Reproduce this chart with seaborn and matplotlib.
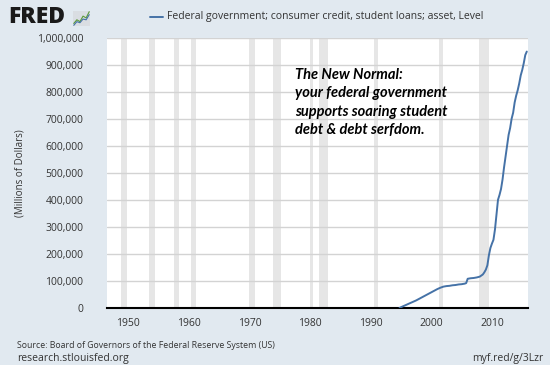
import matplotlib
matplotlib.use("Agg")
import matplotlib.pyplot as plt
import matplotlib.ticker as mticker
import seaborn as sns
import pandas as pd

# quarterly values (millions of dollars)
dates = [1994.75, 1995.0, 1995.5, 1996.0, 1996.5, 1997.0, 1997.5, 1998.0, 1998.5,
         1999.0, 1999.5, 2000.0, 2000.5, 2001.0, 2001.5, 2002.0, 2002.5, 2003.0,
         2003.5, 2004.0, 2004.5, 2005.0, 2005.5, 2005.75, 2006.0, 2006.5, 2007.0,
         2007.5, 2008.0, 2008.5, 2008.75, 2009.0, 2009.25, 2009.5, 2009.75, 2010.0,
         2010.25, 2010.5, 2010.75, 2011.0, 2011.25, 2011.5, 2011.75, 2012.0, 2012.25,
         2012.5, 2012.75, 2013.0, 2013.25, 2013.5, 2013.75, 2014.0, 2014.25, 2014.5,
         2014.75, 2015.0, 2015.25, 2015.5, 2015.75]
values = [0, 3000, 8000, 13000, 18000, 23000, 28000, 34000, 40000,
          46000, 52000, 58000, 64000, 70000, 75000, 79000, 81000, 82000,
          84000, 85000, 87000, 88000, 90000, 92000, 108000, 110000, 111000,
          113000, 116000, 124000, 132000, 142000, 158000, 195000, 222000, 238000,
          252000, 290000, 345000, 400000, 418000, 440000, 475000, 520000, 560000,
          600000, 640000, 665000, 700000, 722000, 760000, 785000, 805000, 830000,
          860000, 880000, 905000, 935000, 948000]

# NBER recessions (decimal years)
rec_start = [1948.85, 1953.5, 1957.6, 1960.3, 1969.9, 1973.85, 1980.0, 1981.5, 1990.5, 2001.2, 2007.9]
rec_end = [1949.8, 1954.4, 1958.3, 1961.1, 1970.9, 1975.2, 1980.5, 1982.9, 1991.2, 2001.9, 2009.5]

series_name = "Federal government; consumer credit, student loans; asset, Level"
note = "The New Normal:\nyour federal government\nsupports soaring student\ndebt & debt serfdom."

df = pd.DataFrame({"date": dates, "value": values})

sns.set_style("white")
plt.rcParams["font.family"] = ["Open Sans", "DejaVu Sans"]

bg = "#e1e9f0"
fig = plt.figure(figsize=(5.5, 3.65), dpi=100, facecolor=bg)
ax = fig.add_axes([107 / 550, 1 - 308 / 365, 421 / 550, 270.5 / 365])
ax.set_facecolor("white")

for s, e in zip(rec_start, rec_end):
    ax.axvspan(s, e, color="#e6e6e6", lw=0, zorder=0)

sns.lineplot(data=df, x="date", y="value", ax=ax, color="#4572a7", lw=1.4, zorder=3)

ax.set_xlim(1946.5, 2015.95)
ax.set_ylim(0, 1000000)
ax.set_xticks([1950, 1960, 1970, 1980, 1990, 2000, 2010])
ax.set_yticks(range(0, 1000001, 100000))
ax.yaxis.set_major_formatter(mticker.FuncFormatter(lambda v, p: f"{int(v):,}"))
ax.grid(axis="y", color="#d3d3d3", lw=1)
ax.set_axisbelow(True)
for side in ["top", "right", "left"]:
    ax.spines[side].set_visible(False)
ax.spines["bottom"].set_color("black")
ax.spines["bottom"].set_linewidth(1.5)
ax.tick_params(axis="y", length=0, pad=17, labelsize=7.5, labelcolor="#333333")
ax.tick_params(axis="x", length=0, pad=7, labelsize=7.5, labelcolor="#333333")
ax.set_xlabel("")
ax.set_ylabel("")

fig.text(20 / 550, 1 - 173 / 365, "(Millions of Dollars)", rotation=90,
         ha="center", va="center", fontsize=7, color="#333333")

# annotation
fig.text(295 / 550, 1 - 68 / 365, note, ha="left", va="top", fontsize=10.5,
         fontweight="bold", style="italic", family=["Lato", "DejaVu Sans"],
         color="black", linespacing=1.4)

# header: logo + legend
fig.text(8 / 550, 1 - 17 / 365, "FRED", ha="left", va="center", fontsize=16.5,
         fontweight="heavy", color="#1a1a1a", family=["Open Sans", "DejaVu Sans"])
icon = fig.add_axes([73 / 550, 1 - 26 / 365, 17 / 550, 15 / 365])
icon.set_facecolor("#d9dde2")
icon.plot([0, 1, 2, 3, 4, 5], [1, 2, 1.5, 3, 2.5, 4.2], color="#5a9a3a", lw=0.8)
icon.plot([0, 1, 2, 3, 4, 5], [0.5, 1.5, 1.2, 2.2, 2.0, 3.4], color="#4572a7", lw=0.8)
icon.set_xticks([])
icon.set_yticks([])
for sp in icon.spines.values():
    sp.set_visible(False)

fig.add_artist(plt.Line2D([150 / 550, 163 / 550], [1 - 17 / 365, 1 - 17 / 365],
                          color="#4572a7", lw=1.4))
fig.text(167 / 550, 1 - 17 / 365, series_name, ha="left", va="center",
         fontsize=7.5, color="#333333")

# footer
fig.text(17 / 550, 1 - 345 / 365, "Source: Board of Governors of the Federal Reserve System (US)",
         ha="left", va="center", fontsize=6.3, color="#333333")
fig.text(17 / 550, 1 - 358 / 365, "research.stlouisfed.org", ha="left", va="center",
         fontsize=7.5, color="#333333")
fig.text(543 / 550, 1 - 358 / 365, "myf.red/g/3Lzr", ha="right", va="center",
         fontsize=7.5, color="#333333")

fig.savefig("out.png", dpi=100, facecolor=bg)
